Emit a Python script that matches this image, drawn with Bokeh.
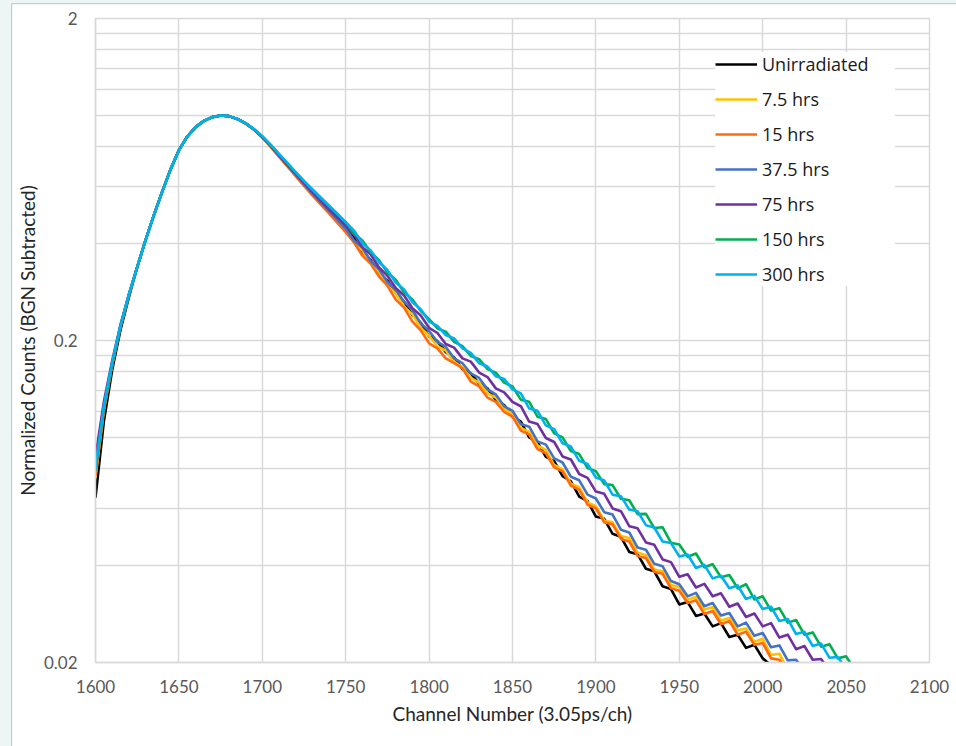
from bokeh.plotting import figure
from bokeh.layouts import column
from bokeh.models import Range1d, FixedTicker, NumeralTickFormatter
from bokeh.embed import file_html
from bokeh.resources import INLINE

# Channel numbers, every 5 channels
channels = [1600, 1605, 1610, 1615, 1620, 1625, 1630, 1635, 1640, 1645,
            1650, 1655, 1660, 1665, 1670, 1675, 1680, 1685, 1690, 1695,
            1700, 1705, 1710, 1715, 1720, 1725, 1730, 1735, 1740, 1745,
            1750, 1755, 1760, 1765, 1770, 1775, 1780, 1785, 1790, 1795,
            1800, 1805, 1810, 1815, 1820, 1825, 1830, 1835, 1840, 1845,
            1850, 1855, 1860, 1865, 1870, 1875, 1880, 1885, 1890, 1895,
            1900, 1905, 1910, 1915, 1920, 1925, 1930, 1935, 1940, 1945,
            1950, 1955, 1960, 1965, 1970, 1975, 1980, 1985, 1990, 1995,
            2000, 2005, 2010, 2015, 2020, 2025, 2030, 2035, 2040, 2045,
            2050, 2055, 2060]

unirradiated = [0.065, 0.112, 0.162, 0.216, 0.272, 0.338, 0.410, 0.490, 0.580, 0.680,
                0.780, 0.860, 0.920, 0.962, 0.988, 1.000, 0.995, 0.975, 0.945, 0.905,
                0.855, 0.803, 0.749, 0.700, 0.654, 0.610, 0.572, 0.536, 0.505, 0.474,
                0.445, 0.416, 0.378, 0.356, 0.325, 0.307, 0.281, 0.264, 0.240, 0.227,
                0.206, 0.199, 0.184, 0.177, 0.163, 0.158, 0.147, 0.142, 0.131, 0.126,
                0.116, 0.112, 0.100, 0.0967, 0.0870, 0.0844, 0.0758, 0.0731, 0.0655, 0.0634,
                0.0568, 0.0559, 0.0502, 0.0491, 0.0441, 0.0434, 0.0391, 0.0384, 0.0345, 0.0338,
                0.0303, 0.0308, 0.0279, 0.0284, 0.0259, 0.0265, 0.0240, 0.0244, 0.0222, 0.0227,
                0.0206, 0.0196, 0.0188]

hrs_7_5 = [0.075, 0.121, 0.168, 0.221, 0.276, 0.338, 0.410, 0.490, 0.580, 0.680,
           0.780, 0.860, 0.920, 0.962, 0.988, 1.000, 0.995, 0.975, 0.945, 0.905,
           0.855, 0.802, 0.748, 0.698, 0.652, 0.608, 0.569, 0.533, 0.500, 0.470,
           0.440, 0.404, 0.381, 0.348, 0.327, 0.297, 0.280, 0.255, 0.241, 0.219,
           0.207, 0.192, 0.186, 0.172, 0.165, 0.153, 0.148, 0.137, 0.133, 0.123,
           0.118, 0.107, 0.104, 0.0944, 0.0914, 0.0821, 0.0796, 0.0718, 0.0700, 0.0628,
           0.0612, 0.0552, 0.0545, 0.0494, 0.0487, 0.0439, 0.0431, 0.0389, 0.0384, 0.0348,
           0.0343, 0.0313, 0.0320, 0.0292, 0.0297, 0.0270, 0.0275, 0.0252, 0.0255, 0.0232,
           0.0237, 0.0211, 0.0213, 0.0190, 0.0188]

hrs_15 = [0.076, 0.122, 0.168, 0.221, 0.276, 0.338, 0.410, 0.490, 0.580, 0.680,
          0.780, 0.860, 0.920, 0.962, 0.988, 1.000, 0.995, 0.975, 0.945, 0.903,
          0.853, 0.799, 0.745, 0.695, 0.648, 0.604, 0.565, 0.529, 0.496, 0.464,
          0.434, 0.403, 0.367, 0.346, 0.316, 0.296, 0.268, 0.253, 0.229, 0.215,
          0.196, 0.189, 0.176, 0.170, 0.164, 0.149, 0.144, 0.133, 0.129, 0.120,
          0.116, 0.105, 0.102, 0.0920, 0.0892, 0.0807, 0.0785, 0.0709, 0.0687, 0.0618,
          0.0602, 0.0545, 0.0537, 0.0484, 0.0475, 0.0428, 0.0422, 0.0382, 0.0377, 0.0340,
          0.0334, 0.0306, 0.0312, 0.0283, 0.0289, 0.0263, 0.0269, 0.0244, 0.0249, 0.0227,
          0.0230, 0.0206, 0.0204, 0.0186, 0.0178]

hrs_37_5 = [0.080, 0.124, 0.170, 0.222, 0.277, 0.338, 0.410, 0.490, 0.580, 0.680,
            0.780, 0.860, 0.920, 0.962, 0.988, 1.000, 0.995, 0.975, 0.945, 0.905,
            0.857, 0.804, 0.750, 0.701, 0.655, 0.612, 0.573, 0.537, 0.505, 0.475,
            0.445, 0.409, 0.388, 0.353, 0.333, 0.304, 0.288, 0.264, 0.249, 0.226,
            0.214, 0.198, 0.191, 0.176, 0.170, 0.158, 0.153, 0.141, 0.136, 0.125,
            0.121, 0.110, 0.108, 0.0972, 0.0950, 0.0861, 0.0836, 0.0755, 0.0736, 0.0664,
            0.0646, 0.0586, 0.0576, 0.0517, 0.0507, 0.0455, 0.0448, 0.0405, 0.0398, 0.0358,
            0.0350, 0.0321, 0.0329, 0.0299, 0.0306, 0.0280, 0.0285, 0.0259, 0.0266, 0.0242,
            0.0247, 0.0223, 0.0226, 0.0203, 0.0204, 0.0188, 0.0180]

hrs_75 = [0.087, 0.129, 0.173, 0.224, 0.278, 0.338, 0.410, 0.490, 0.580, 0.680,
          0.780, 0.860, 0.920, 0.962, 0.988, 1.000, 0.995, 0.975, 0.945, 0.905,
          0.858, 0.806, 0.753, 0.704, 0.659, 0.617, 0.579, 0.544, 0.512, 0.483,
          0.455, 0.427, 0.390, 0.370, 0.337, 0.318, 0.291, 0.276, 0.252, 0.239,
          0.219, 0.211, 0.195, 0.190, 0.176, 0.172, 0.159, 0.154, 0.142, 0.138,
          0.129, 0.125, 0.112, 0.110, 0.0996, 0.0968, 0.0873, 0.0854, 0.0770, 0.0749,
          0.0679, 0.0668, 0.0602, 0.0590, 0.0530, 0.0522, 0.0472, 0.0464, 0.0418, 0.0410,
          0.0369, 0.0376, 0.0342, 0.0351, 0.0321, 0.0328, 0.0298, 0.0305, 0.0277, 0.0284,
          0.0259, 0.0265, 0.0239, 0.0244, 0.0220, 0.0225, 0.0204, 0.0205, 0.0189, 0.0184]

hrs_150 = [0.079, 0.124, 0.170, 0.222, 0.277, 0.338, 0.410, 0.490, 0.580, 0.680,
           0.780, 0.860, 0.920, 0.962, 0.988, 1.000, 0.995, 0.975, 0.945, 0.906,
           0.861, 0.810, 0.758, 0.710, 0.665, 0.624, 0.587, 0.553, 0.522, 0.493,
           0.466, 0.430, 0.409, 0.376, 0.355, 0.325, 0.309, 0.282, 0.268, 0.247,
           0.233, 0.218, 0.213, 0.198, 0.192, 0.179, 0.175, 0.163, 0.159, 0.148,
           0.144, 0.131, 0.129, 0.116, 0.114, 0.103, 0.100, 0.0907, 0.0888, 0.0803,
           0.0785, 0.0716, 0.0711, 0.0645, 0.0638, 0.0578, 0.0579, 0.0523, 0.0526, 0.0471,
           0.0465, 0.0426, 0.0436, 0.0395, 0.0404, 0.0368, 0.0374, 0.0340, 0.0350, 0.0314,
           0.0321, 0.0290, 0.0295, 0.0266, 0.0271, 0.0244, 0.0248, 0.0224, 0.0228, 0.0206,
           0.0209, 0.0191, 0.0183]

hrs_300 = [0.080, 0.125, 0.171, 0.223, 0.278, 0.338, 0.410, 0.490, 0.580, 0.680,
           0.780, 0.860, 0.920, 0.962, 0.988, 1.000, 0.995, 0.975, 0.946, 0.907,
           0.862, 0.812, 0.760, 0.712, 0.667, 0.626, 0.590, 0.556, 0.525, 0.495,
           0.466, 0.439, 0.401, 0.381, 0.350, 0.331, 0.303, 0.288, 0.263, 0.250,
           0.229, 0.222, 0.208, 0.203, 0.189, 0.183, 0.170, 0.166, 0.155, 0.152,
           0.141, 0.137, 0.123, 0.121, 0.109, 0.106, 0.0959, 0.0937, 0.0846, 0.0827,
           0.0751, 0.0735, 0.0664, 0.0657, 0.0597, 0.0590, 0.0534, 0.0525, 0.0475, 0.0470,
           0.0427, 0.0433, 0.0393, 0.0402, 0.0365, 0.0372, 0.0340, 0.0347, 0.0315, 0.0322,
           0.0293, 0.0298, 0.0269, 0.0273, 0.0245, 0.0249, 0.0225, 0.0229, 0.0207, 0.0208,
           0.0191, 0.0183]

series_names = ["Unirradiated", "7.5 hrs", "15 hrs", "37.5 hrs", "75 hrs", "150 hrs", "300 hrs"]
series_values = [unirradiated, hrs_7_5, hrs_15, hrs_37_5, hrs_75, hrs_150, hrs_300]
series_colors = ["#000000", "#FFC000", "#FF6A0D", "#4472C4", "#7030A0", "#00B050", "#00B0F0"]

x_ticks = [1600, 1650, 1700, 1750, 1800, 1850, 1900, 1950, 2000, 2050, 2100]
y_major = [0.02, 0.2, 2]
y_minor = [0.04, 0.06, 0.08, 0.10, 0.12, 0.14, 0.16, 0.18,
           0.4, 0.6, 0.8, 1.0, 1.2, 1.4, 1.6, 1.8]

GRID = "#d9d9d9"
AXIS_FONT = "Lato"

p = figure(width=944, height=742, y_axis_type="log",
           x_range=Range1d(1600, 2100), y_range=Range1d(0.02, 2),
           output_backend="svg", toolbar_location=None,
           min_border_left=81, min_border_right=27, min_border_top=14, min_border_bottom=84,
           margin=(4, 0, 0, 12),
           background_fill_color="white", border_fill_color="white",
           styles={"outline": "1px solid #c9c9c9"})

for name, vals, col in zip(series_names, series_values, series_colors):
    p.line(channels[:len(vals)], vals, line_color=col, line_width=2.6,
           line_join="round", legend_label=name)

p.outline_line_color = GRID
p.outline_line_width = 1.5

p.xaxis.ticker = FixedTicker(ticks=x_ticks)
p.yaxis.ticker = FixedTicker(ticks=y_major, minor_ticks=y_minor)
p.yaxis.formatter = NumeralTickFormatter(format="0.[00]")

for ax in (p.xaxis[0], p.yaxis[0]):
    ax.axis_line_color = GRID
    ax.axis_line_width = 1.5
    ax.major_tick_line_color = None
    ax.minor_tick_line_color = None
    ax.major_tick_out = 0
    ax.major_tick_in = 0
    ax.minor_tick_out = 0
    ax.major_label_text_font = AXIS_FONT
    ax.major_label_text_font_size = "17px"
    ax.major_label_text_color = "#595959"
    ax.axis_label_text_font = AXIS_FONT
    ax.axis_label_text_font_size = "19px"
    ax.axis_label_text_font_style = "normal"
    ax.axis_label_text_color = "#262626"

p.xaxis.axis_label = "Channel Number (3.05ps/ch)"
p.yaxis.axis_label = "Normalized Counts (BGN Subtracted)"
p.xaxis.major_label_standoff = 17
p.xaxis.axis_label_standoff = 6
p.yaxis.major_label_standoff = 18
p.yaxis.axis_label_standoff = 2

p.xgrid.grid_line_color = GRID
p.xgrid.grid_line_width = 1.5
p.ygrid.grid_line_color = GRID
p.ygrid.grid_line_width = 1.5
p.ygrid.minor_grid_line_color = GRID
p.ygrid.minor_grid_line_width = 1.5

lg = p.legend[0]
lg.location = "top_right"
lg.margin = 34
lg.padding = 15
lg.spacing = 11
lg.label_height = 24
lg.glyph_height = 24
lg.glyph_width = 42
lg.label_width = 133
lg.label_standoff = 5
lg.label_text_font = "Open Sans"
lg.label_text_font_size = "18px"
lg.label_text_color = "#1a1a1a"
lg.border_line_color = None
lg.background_fill_color = "white"
lg.background_fill_alpha = 1.0

layout = column(p, styles={"background-color": "#eef5f5"})

open("out.html", "w").write(file_html(layout, INLINE))
